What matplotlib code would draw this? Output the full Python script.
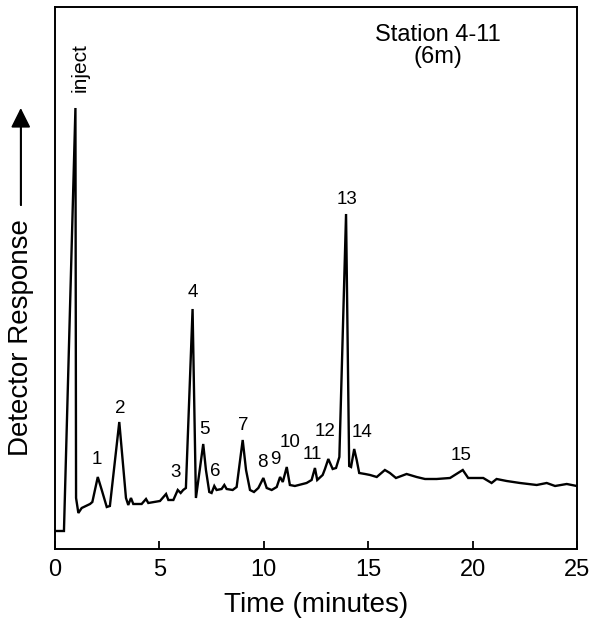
import matplotlib
matplotlib.use("Agg")
import matplotlib.pyplot as plt
from matplotlib.lines import Line2D

plt.rcParams['font.family'] = ['Liberation Sans', 'DejaVu Sans']

# chromatogram trace (time in minutes, detector response in arbitrary units)
time_min = [0.0, 0.43, 0.98, 1.01, 1.12, 1.28, 1.68, 1.79, 2.05, 2.24, 2.48, 2.63,
            3.08, 3.40, 3.51, 3.64, 3.75, 4.15, 4.36, 4.47, 5.03, 5.32, 5.43, 5.67,
            5.88, 6.02, 6.14, 6.27, 6.59, 6.75, 7.10, 7.23, 7.39, 7.50, 7.63, 7.74,
            7.98, 8.11, 8.22, 8.51, 8.70, 8.99, 9.15, 9.34, 9.53, 9.74, 9.98, 10.14,
            10.38, 10.62, 10.78, 10.91, 11.10, 11.25, 11.49, 12.05, 12.29, 12.45,
            12.56, 12.82, 12.93, 13.09, 13.30, 13.46, 13.62, 13.94, 14.09, 14.18,
            14.33, 14.45, 14.57, 14.85, 15.09, 15.41, 15.80, 16.04, 16.33, 16.84,
            17.32, 17.72, 18.28, 18.92, 19.53, 19.79, 20.51, 20.91, 21.15, 21.63,
            22.27, 23.07, 23.55, 23.95, 24.51, 24.99]
response = [18, 18, 441, 51, 36, 41, 45, 47, 72, 59, 42, 43,
            127, 51, 44, 51, 45, 45, 50, 46, 48, 55, 49, 49,
            59, 56, 59, 61, 240, 51, 105, 79, 57, 56, 63, 59,
            60, 64, 60, 59, 62, 109, 79, 59, 57, 61, 71, 61,
            59, 62, 72, 67, 82, 64, 63, 66, 69, 81,
            69, 74, 80, 90, 80, 81, 92, 335, 83, 82,
            100, 89, 76, 75, 74, 72, 79, 76, 71, 75,
            72, 70, 70, 71, 79, 71, 71, 66, 70, 68,
            66, 64, 66, 63, 65, 63]

# peak labels
peak_names = ['1', '2', '3', '4', '5', '6', '7', '8', '9', '10', '11', '12', '13', '14', '15']
peak_x = [2.01, 3.11, 5.75, 6.61, 7.18, 7.66, 9.00, 9.91, 10.54, 11.25, 12.31, 12.93, 13.98, 14.70, 19.44]
peak_y = [89, 140, 76, 256, 119, 77, 123, 86, 89, 106, 94, 117, 349, 116, 93]

fig = plt.figure(figsize=(5.93, 6.19), dpi=100)
ax = fig.add_axes([0.0927, 0.1131, 0.9803 - 0.0927 - 0.0073, 0.9887 - 0.1131])

ax.plot(time_min, response, color='black', lw=1.7, solid_joinstyle='miter')

for name, x, y in zip(peak_names, peak_x, peak_y):
    ax.text(x, y, name, ha='center', va='center', fontsize=13.5)
ax.text(1.20, 481, 'inject', rotation=90, ha='center', va='center', fontsize=15)

ax.text(18.34, 503, 'Station 4-11\n(6m)', ha='center', va='center', fontsize=17,
        linespacing=1.0)

ax.set_xlim(0, 25)
ax.set_ylim(0, 542)
ax.set_xticks([0, 5, 10, 15, 20, 25])
ax.set_yticks([])
ax.tick_params(axis='x', direction='in', length=6, width=1.3, labelsize=17, pad=7)
for s in ax.spines.values():
    s.set_linewidth(1.4)
ax.set_xlabel('Time (minutes)', fontsize=20, labelpad=8)

# y label with arrow
fig.text(0.035, 0.454, 'Detector Response', rotation=90, ha='center', va='center', fontsize=20)
fig.add_artist(Line2D([0.035, 0.035], [0.669, 0.80], transform=fig.transFigure,
                      color='black', lw=1.3))
ax.annotate('', xy=(0.035, 0.8255), xytext=(0.035, 0.669), xycoords='figure fraction',
            textcoords='figure fraction',
            arrowprops=dict(arrowstyle='-|>', color='black', lw=1.3, mutation_scale=30,
                            shrinkA=0, shrinkB=0))

fig.savefig('out.png', dpi=100)
